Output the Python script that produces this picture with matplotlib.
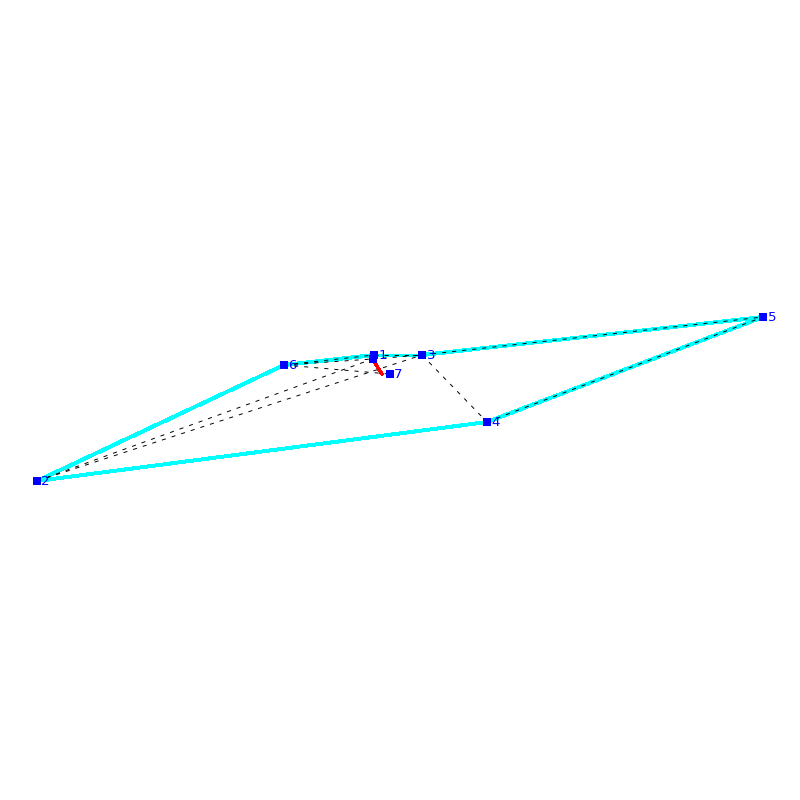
#!/usr/bin/env python3
# Point set with its convex hull, triangulation edges and one short red edge
import matplotlib
matplotlib.use("Agg")
import matplotlib.pyplot as plt

# point positions (y grows downward)
px = [374, 37, 422, 487, 763, 284, 389.5, 372.5]
py = [355, 481, 355, 422, 317, 365, 374, 359]
labels = ["1", "2", "3", "4", "5", "6", "7", ""]

# edges as index pairs into px/py
hull_edges = [(1, 5), (5, 0), (0, 2), (2, 4), (4, 3), (3, 1)]
dashed_edges = [(1, 7), (1, 2), (5, 7), (5, 6), (5, 0), (0, 2), (2, 4),
                (2, 3), (3, 4), (7, 2)]
# the red piece stops short of point 7
red_x = [373, 382]
red_y = [360, 374]

fig = plt.figure(figsize=(8, 8), dpi=100)
ax = fig.add_axes([0, 0, 1, 1])
ax.set_xlim(0, 800)
ax.set_ylim(800, 0)
ax.axis("off")

def draw_edges(edges, **style):
    for a, b in edges:
        ax.plot([px[a], px[b]], [py[a], py[b]], **style)

draw_edges(hull_edges, color="#00ffff", lw=2.1, antialiased=False, zorder=1)
draw_edges(dashed_edges, color="black", lw=0.7, dashes=(4.2, 6.2), zorder=2)
ax.plot(red_x, red_y, color="red", lw=1.8, antialiased=False, zorder=3)

ax.plot(px, py, "s", color="#0000ff", ms=5.6, mew=0, ls="none", zorder=4,
        antialiased=False)
for x, y, s in zip(px, py, labels):
    ax.text(x + 4.5, y + 0.5, s, color="#0000ff", fontsize=9.5, family="DejaVu Sans",
            ha="left", va="center", zorder=5)

fig.savefig("out.png", dpi=100)
